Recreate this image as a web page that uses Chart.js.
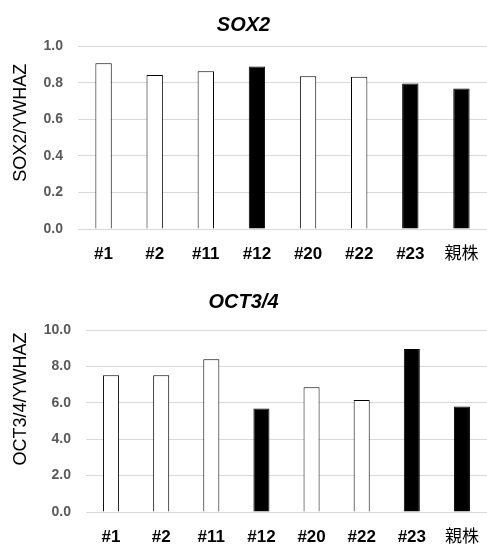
<!DOCTYPE html>
<html>
<head>
<meta charset="utf-8">
<script src="https://cdn.jsdelivr.net/npm/chart.js@4/dist/chart.umd.min.js"></script>
<style>
  body { margin: 0; background: #fff; }
  canvas { display: block; }
</style>
</head>
<body>
<canvas id="sox2-chart" width="487" height="270"></canvas>
<canvas id="oct-chart" width="487" height="276"></canvas>
<script>
const clones = ['#1', '#2', '#11', '#12', '#20', '#22', '#23', '親株'];
const sox2Values = [0.907, 0.843, 0.863, 0.889, 0.836, 0.834, 0.796, 0.769];
const octValues = [7.51, 7.51, 8.39, 5.68, 6.85, 6.15, 8.96, 5.79];
const filledClones = ['#12', '#23', '親株'];

const FONT = "'Liberation Sans', Arial, 'Noto Sans CJK JP', sans-serif";

// y axis title drawn by hand so it can sit a bit above the plot centre like the original
const sideTitle = {
  id: 'sideTitle',
  afterDraw(chart, args, opts) {
    const ctx = chart.ctx;
    const area = chart.chartArea;
    ctx.save();
    ctx.translate(opts.x, (area.top + area.bottom) / 2 + opts.shift);
    ctx.rotate(-Math.PI / 2);
    ctx.font = '18px ' + FONT;
    ctx.fillStyle = '#000';
    ctx.textAlign = 'center';
    ctx.textBaseline = 'middle';
    ctx.fillText(opts.text, 0, 0);
    ctx.restore();
  }
};

function makeChart(id, title, values, yMax, step, axisTitle, leftWidth, titlePad, xHeight, shift) {
  const ctx = document.getElementById(id).getContext('2d');
  return new Chart(ctx, {
    type: 'bar',
    data: {
      labels: clones,
      datasets: [{
        data: values,
        backgroundColor: clones.map(c => filledClones.includes(c) ? '#000' : '#fff'),
        borderColor: '#000',
        borderWidth: 1,
        categoryPercentage: 1,
        barPercentage: 0.32,
      }]
    },
    options: {
      responsive: false,
      animation: false,
      plugins: {
        legend: { display: false },
        tooltip: { enabled: false },
        title: {
          display: true,
          text: title,
          color: '#000',
          font: { family: FONT, size: 20, weight: 'bold', style: 'italic' },
          padding: titlePad,
        },
        sideTitle: { text: axisTitle, x: 21, shift: shift },
      },
      scales: {
        x: {
          grid: { display: false },
          border: { color: '#d9d9d9' },
          ticks: {
            color: '#000',
            padding: 7,
            font: c => ({
              family: FONT,
              size: 17,
              weight: clones[c.index] === '親株' ? 'normal' : 'bold',
            }),
          },
          afterFit(scale) { scale.height = xHeight; },
        },
        y: {
          min: 0,
          max: yMax,
          grid: { color: '#d9d9d9', drawTicks: false },
          border: { display: false },
          ticks: {
            stepSize: step,
            padding: 15,
            color: '#595959',
            font: { family: FONT, size: 14, weight: 'bold' },
            callback: v => v.toFixed(1),
          },
          afterFit(scale) { scale.width = leftWidth; },
        },
      },
    },
    plugins: [sideTitle],
  });
}

makeChart('sox2-chart', 'SOX2', sox2Values, 1, 0.2, 'SOX2/YWHAZ', 78, { top: 13, bottom: 9.3 }, 41, -15);
makeChart('oct-chart', 'OCT3/4', octValues, 10, 2, 'OCT3/4/YWHAZ', 86, { top: 20, bottom: 16 }, 34, -22);
</script>
</body>
</html>
